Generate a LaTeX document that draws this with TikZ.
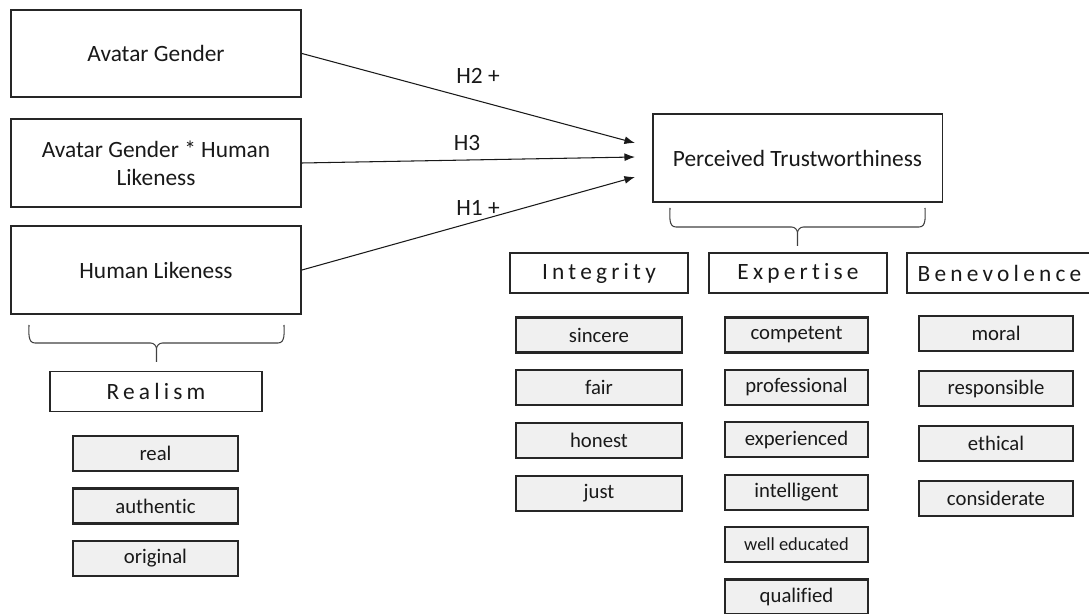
\documentclass[tikz,border=0pt]{standalone}
\usepackage{fontspec}
\setmainfont[Ligatures=NoCommon]{Carlito}
\newfontfamily\spacedfont[Ligatures=NoCommon, LetterSpace=18]{Carlito}
\usetikzlibrary{calc,arrows.meta}

\tikzset{
  mainbox/.style={draw=black!85, line width=1.1pt, minimum width=5.8cm, minimum height=1.75cm, align=center, text=black!90, font=\fontsize{13.3}{16}\selectfont},
  headbox/.style={draw=black!85, line width=1.1pt, minimum height=0.8cm, text=black!90, font=\spacedfont\fontsize{13.3}{16}\selectfont},
  itembox/.style={draw=black!85, fill=black!6, line width=1.2pt, minimum height=0.7cm, text=black!90, font=\fontsize{11.8}{14}\selectfont},
  link/.style={-{Latex[length=6pt,width=4.5pt]}, line width=0.6pt, black!90},
  bracket/.style={line width=0.6pt, black!75},
  hyp/.style={text=black!90, font=\fontsize{13.3}{16}\selectfont}
}

% left x, right x, top y, bar y, tip y
\newcommand{\bracket}[5]{%
  \pgfmathsetmacro{\bm}{0.5*#1+0.5*#2}
  \pgfmathsetmacro{\bl}{\bm-6}
  \pgfmathsetmacro{\br}{\bm+6}
  \pgfmathsetmacro{\ba}{#1+6}
  \pgfmathsetmacro{\bb}{#2-6}
  \pgfmathsetmacro{\bc}{#4+6}
  \draw[bracket] (#1,#3) to[out=-90,in=180] (\ba,#4) -- (\bl,#4)
    to[out=0,in=90] (\bm,\bc) -- (\bm,#5);
  \draw[bracket] (#2,#3) to[out=-90,in=0] (\bb,#4) -- (\br,#4)
    to[out=180,in=90] (\bm,\bc);
}

\begin{document}
\begin{tikzpicture}[x=0.02cm, y=-0.02cm]
  \useasboundingbox (0,0) rectangle (1089,614);

  %%%%% predictors %%%%%
  \node[mainbox] (ag) at (156,53.5) {Avatar Gender};
  \node[mainbox] (agxhl) at (156,163) {Avatar Gender * Human\\Likeness};
  \node[mainbox] (hl) at (156,270) {Human Likeness};

  %%%%% outcome %%%%%
  \node[mainbox] (pt) at (797.5,158) {Perceived Trustworthiness};

  \coordinate (in2) at (635,143);
  \coordinate (in3) at (635,157);
  \coordinate (in1) at (635,177);
  \draw[link] (ag.east) -- (in2);
  \draw[link] (agxhl.east) -- (in3);
  \draw[link] (hl.east) -- (in1);
  \node[hyp] (h2) at (478,76) {H2 +};
  \node[hyp] (h3) at (467,143) {H3};
  \node[hyp] (h1) at (478,208) {H1 +};

  %%%%% realism %%%%%
  \bracket{29}{284}{325}{343}{362}
  \node[headbox, minimum width=4.24cm] (realism) at (156,391.5) {Realism};
  \foreach \txt [count=\i] in {real, authentic, original}
    \node[itembox, minimum width=3.3cm] (real\i) at (155.5,{453.5+52.5*(\i-1)}) {\txt};

  %%%%% trust dimensions %%%%%
  \bracket{670}{925}{208}{227}{246}
  \node[headbox, minimum width=3.56cm] (integrity) at (599,273) {Integrity};
  \node[headbox, minimum width=3.56cm] (expertise) at (798,273) {Expertise};
  \node[headbox, minimum width=3.7cm] (benevolence) at (999.5,273) {Benevolence};

  \foreach \txt [count=\i] in {sincere, fair, honest, just}
    \node[itembox, minimum width=3.32cm] (int\i) at (599,{335+52.7*(\i-1)}) {\txt};
  \foreach \txt [count=\i] in {competent, professional, experienced, intelligent, {\fontsize{10.5}{12}\selectfont well educated}, qualified}
    \node[itembox, minimum width=2.86cm] (exp\i) at (796.5,{335+52.4*(\i-1)}) {\txt};
  \foreach \txt [count=\i] in {moral, responsible, ethical, considerate}
    \node[itembox, minimum width=3.08cm] (ben\i) at (996,{333.5+55*(\i-1)}) {\txt};
\end{tikzpicture}
\end{document}
